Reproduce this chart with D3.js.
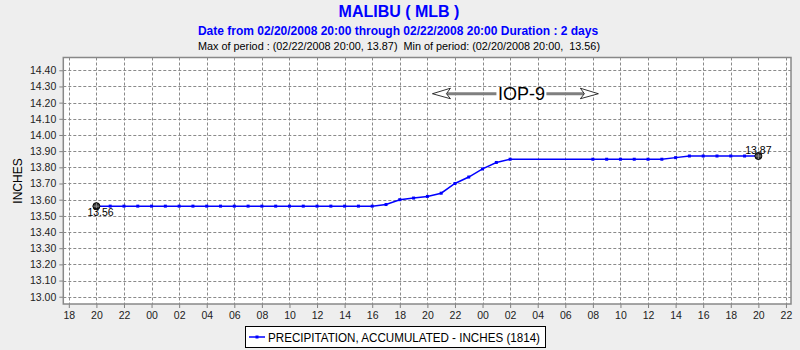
<!DOCTYPE html>
<html>
<head>
<meta charset="utf-8">
<script src="https://cdn.jsdelivr.net/npm/d3@7"></script>
<style>
  html, body { margin: 0; padding: 0; background: #eeeeee; }
  svg { display: block; font-family: "Liberation Sans", Arial, sans-serif; }
</style>
</head>
<body>
<svg id="chart" width="800" height="350"></svg>
<script>
// ---- data ----
const times = [
  "2008-02-20T20:00","2008-02-20T21:00","2008-02-20T22:00","2008-02-20T23:00",
  "2008-02-21T00:00","2008-02-21T01:00","2008-02-21T02:00","2008-02-21T03:00",
  "2008-02-21T04:00","2008-02-21T05:00","2008-02-21T06:00","2008-02-21T07:00",
  "2008-02-21T08:00","2008-02-21T09:00","2008-02-21T10:00","2008-02-21T11:00",
  "2008-02-21T12:00","2008-02-21T13:00","2008-02-21T14:00","2008-02-21T15:00",
  "2008-02-21T16:00","2008-02-21T17:00","2008-02-21T18:00","2008-02-21T19:00",
  "2008-02-21T20:00","2008-02-21T21:00","2008-02-21T22:00","2008-02-21T23:00",
  "2008-02-22T00:00","2008-02-22T01:00","2008-02-22T02:00",
  "2008-02-22T08:00","2008-02-22T09:00","2008-02-22T10:00","2008-02-22T11:00",
  "2008-02-22T12:00","2008-02-22T13:00","2008-02-22T14:00","2008-02-22T15:00",
  "2008-02-22T16:00","2008-02-22T17:00","2008-02-22T18:00","2008-02-22T19:00",
  "2008-02-22T20:00"
];
const values = [
  13.56,13.56,13.56,13.56,
  13.56,13.56,13.56,13.56,
  13.56,13.56,13.56,13.56,
  13.56,13.56,13.56,13.56,
  13.56,13.56,13.56,13.56,
  13.56,13.57,13.60,13.61,
  13.62,13.64,13.70,13.74,
  13.79,13.83,13.85,
  13.85,13.85,13.85,13.85,
  13.85,13.85,13.86,13.87,
  13.87,13.87,13.87,13.87,
  13.87
];
const yTicks = [13.00,13.10,13.20,13.30,13.40,13.50,13.60,13.70,13.80,13.90,14.00,14.10,14.20,14.30,14.40];
const xTickStart = "2008-02-20T18:00";
const xTickEnd = "2008-02-22T22:00";
const xDomain = ["2008-02-20T17:36","2008-02-22T22:22"];
const yDomain = [12.955, 14.479];
const titleText = "MALIBU ( MLB )";
const subtitleText = "Date from 02/20/2008 20:00 through 02/22/2008 20:00 Duration : 2 days";
const statsText = "Max of period : (02/22/2008 20:00, 13.87)  Min of period: (02/20/2008 20:00,  13.56)";
const yAxisTitle = "INCHES";
const legendText = "PRECIPITATION, ACCUMULATED - INCHES (1814)";
const iopLabel = "IOP-9";
const iopRange = ["2008-02-21T20:22","2008-02-22T08:24"];
const iopLevel = 14.255;

// ---- layout ----
const plot = { left: 63.3, right: 791, top: 57.5, bottom: 304 };
const parse = d3.timeParse("%Y-%m-%dT%H:%M");
const data = times.map((t, i) => ({ t: parse(t), v: values[i] }));

const x = d3.scaleTime().domain(xDomain.map(parse)).range([plot.left, plot.right]);
const y = d3.scaleLinear().domain(yDomain).range([plot.bottom, plot.top]);

const svg = d3.select("#chart");
svg.append("rect").attr("width", 800).attr("height", 350).attr("fill", "#eeeeee");

// titles
svg.append("text").attr("x", 399).attr("y", 17).attr("text-anchor", "middle")
  .attr("font-size", 16).attr("font-weight", "bold").attr("fill", "#0000ff").text(titleText);
svg.append("text").attr("x", 398).attr("y", 34.5).attr("text-anchor", "middle")
  .attr("font-size", 12).attr("font-weight", "bold").attr("fill", "#0000ff").text(subtitleText);
svg.append("text").attr("x", 198).attr("y", 49.5)
  .attr("font-size", 11.5).attr("fill", "#000").style("white-space", "pre")
  .attr("textLength", 402).attr("lengthAdjust", "spacingAndGlyphs").text(statsText);

// plot background
svg.append("rect").attr("x", plot.left).attr("y", plot.top)
  .attr("width", plot.right - plot.left).attr("height", plot.bottom - plot.top)
  .attr("fill", "#ffffff");

// x ticks
const xTicks = d3.timeHour.every(2).range(parse(xTickStart), d3.timeMinute.offset(parse(xTickEnd), 1));

// grid
const grid = svg.append("g").attr("stroke", "#8a8a8a").attr("stroke-width", 1).attr("stroke-dasharray", "3,2");
grid.selectAll("line.v").data(xTicks).join("line")
  .attr("x1", d => Math.round(x(d)) + 0.5).attr("x2", d => Math.round(x(d)) + 0.5)
  .attr("y1", plot.top).attr("y2", plot.bottom);
grid.selectAll("line.h").data(yTicks).join("line")
  .attr("y1", d => Math.round(y(d)) + 0.5).attr("y2", d => Math.round(y(d)) + 0.5)
  .attr("x1", plot.left).attr("x2", plot.right);

// axes
const xAxis = d3.axisBottom(x).tickValues(xTicks).tickFormat(d3.timeFormat("%H")).tickSize(4).tickPadding(4);
const gx = svg.append("g").attr("transform", `translate(0,${plot.bottom})`).call(xAxis);
const yAxis = d3.axisLeft(y).tickValues(yTicks).tickFormat(d3.format(".2f")).tickSize(4).tickPadding(3);
const gy = svg.append("g").attr("transform", `translate(${plot.left},0)`).call(yAxis);
[gx, gy].forEach(g => {
  g.select(".domain").remove();
  g.selectAll(".tick line").attr("stroke", "#808080");
  g.selectAll(".tick text").attr("font-size", 10.5).attr("fill", "#222")
    .attr("font-family", "Liberation Sans, Arial, sans-serif");
});

// frame
svg.append("rect").attr("x", plot.left).attr("y", plot.top)
  .attr("width", plot.right - plot.left).attr("height", plot.bottom - plot.top)
  .attr("fill", "none").attr("stroke", "#888").attr("stroke-width", 1.5);

// y axis title
svg.append("text").attr("transform", `translate(22,181) rotate(-90)`).attr("text-anchor", "middle")
  .attr("font-size", 12).attr("fill", "#000").text(yAxisTitle);

// IOP annotation
const ay = y(iopLevel);
const ax0 = x(parse(iopRange[0])), ax1 = x(parse(iopRange[1]));
const labelCx = (ax0 + ax1) / 2 + 6;
const ann = svg.append("g");
ann.append("line").attr("x1", ax0 + 14).attr("x2", labelCx - 25).attr("y1", ay).attr("y2", ay)
  .attr("stroke", "#7f7f7f").attr("stroke-width", 3);
ann.append("line").attr("x1", labelCx + 25).attr("x2", ax1 - 14).attr("y1", ay).attr("y2", ay)
  .attr("stroke", "#7f7f7f").attr("stroke-width", 3);
ann.append("path")
  .attr("d", `M${ax0},${ay} L${ax0 + 18},${ay - 5.5} L${ax0 + 14},${ay} L${ax0 + 18},${ay + 5} Z`)
  .attr("fill", "#fff").attr("stroke", "#000").attr("stroke-width", 0.8);
ann.append("path")
  .attr("d", `M${ax1},${ay} L${ax1 - 18},${ay - 5.5} L${ax1 - 14},${ay} L${ax1 - 18},${ay + 5} Z`)
  .attr("fill", "#fff").attr("stroke", "#000").attr("stroke-width", 0.8);
ann.append("text").attr("x", labelCx).attr("y", ay + 6.5).attr("text-anchor", "middle")
  .attr("font-size", 18).attr("fill", "#000").text(iopLabel);

// series line
const line = d3.line().x(d => x(d.t)).y(d => y(d.v));
svg.append("path").datum(data).attr("d", line).attr("fill", "none")
  .attr("stroke", "#0000ff").attr("stroke-width", 1.5);
svg.append("g").selectAll("rect").data(data.slice(1, -1)).join("rect")
  .attr("x", d => x(d.t) - 1.5).attr("y", d => y(d.v) - 1.5)
  .attr("width", 3).attr("height", 3).attr("fill", "#0000ff");

// min / max markers
const minPt = data[0], maxPt = data[data.length - 1];
[minPt, maxPt].forEach(p => {
  const cx = x(p.t), cy = y(p.v);
  svg.append("circle").attr("cx", cx).attr("cy", cy).attr("r", 3.5)
    .attr("fill", "#333").attr("stroke", "#000").attr("stroke-width", 1);
  svg.append("path").attr("d", `M${cx - 3},${cy} H${cx + 3} M${cx},${cy - 3} V${cy + 3}`)
    .attr("stroke", "#999").attr("stroke-width", 0.8);
});
svg.append("text").attr("x", x(minPt.t) - 9).attr("y", y(minPt.v) + 10)
  .attr("font-size", 10.5).attr("fill", "#000").text(d3.format(".2f")(minPt.v));
svg.append("text").attr("x", x(maxPt.t)).attr("y", y(maxPt.v) - 2)
  .attr("text-anchor", "middle").attr("font-size", 10.5).attr("fill", "#000").text(d3.format(".2f")(maxPt.v));

// legend
const lg = svg.append("g");
lg.append("rect").attr("x", 245.5).attr("y", 326.5).attr("width", 300).attr("height", 21)
  .attr("fill", "#fff").attr("stroke", "#000").attr("stroke-width", 1);
lg.append("line").attr("x1", 249).attr("x2", 265).attr("y1", 337).attr("y2", 337)
  .attr("stroke", "#0000ff").attr("stroke-width", 1.5);
lg.append("rect").attr("x", 255.5).attr("y", 335.5).attr("width", 3).attr("height", 3).attr("fill", "#0000ff");
lg.append("text").attr("x", 268).attr("y", 341.5).attr("font-size", 12).attr("fill", "#000")
  .attr("textLength", 272).attr("lengthAdjust", "spacingAndGlyphs").text(legendText);
</script>
</body>
</html>
